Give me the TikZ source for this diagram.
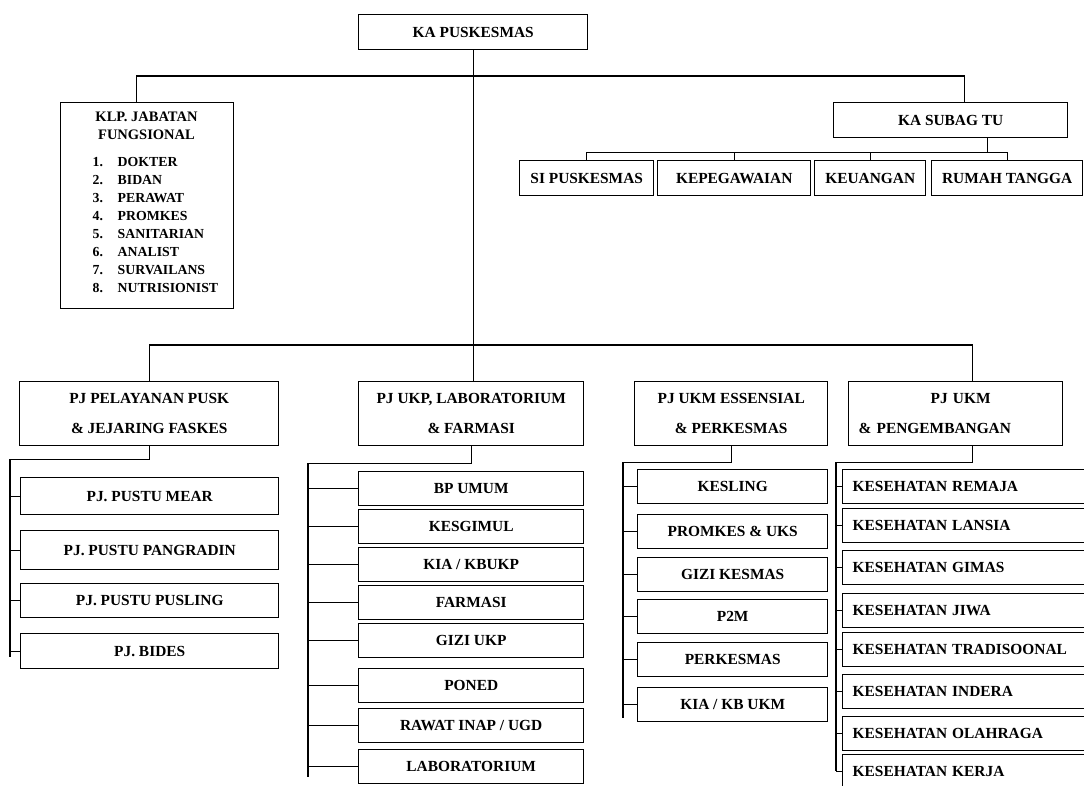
\documentclass[tikz,border=0pt]{standalone}
\usepackage{fontspec}
\setmainfont{Liberation Serif}

\begin{document}
\begin{tikzpicture}[x=1pt, y=-1pt, line width=1.4pt,
  box/.style={draw, inner sep=0pt, anchor=north west, align=center,
    font=\bfseries\fontsize{15.4}{18}\selectfont},
  pjbox/.style={box, minimum height=64pt, font=\bfseries\fontsize{15.4}{30}\selectfont},
  itembox/.style={box, minimum height=34pt},
  listtxt/.style={anchor=west, inner sep=0pt, font=\bfseries\fontsize{13.8}{15}\selectfont}]
  \useasboundingbox (0,0) rectangle (1084,786);

  \node[box, minimum width=229pt, minimum height=35pt] (kapusk) at (358,14) {KA PUSKESMAS};
  \node[box, minimum width=173pt, minimum height=206pt] (klp) at (60,102) {};
  \node[inner sep=0pt, align=center, font=\bfseries\fontsize{14.5}{18}\selectfont] (klptitle) at (146.5,126) {KLP. JABATAN\\FUNGSIONAL};
  \foreach \t [count=\i] in {DOKTER,BIDAN,PERAWAT,PROMKES,SANITARIAN,ANALIST,SURVAILANS,NUTRISIONIST}
    \node[listtxt] (fung\i) at (92,{144+18*\i}) {\makebox[25pt][l]{\i.}\t};

  \node[box, minimum width=234pt, minimum height=35pt] (kasubag) at (833,102) {KA SUBAG TU};
  \node[box, minimum width=134pt, minimum height=35pt] (sipusk) at (519,160) {SI PUSKESMAS};
  \node[box, minimum width=153pt, minimum height=35pt] (kepeg) at (657,160) {KEPEGAWAIAN};
  \node[box, minimum width=111pt, minimum height=35pt] (keu) at (814,160) {KEUANGAN};
  \node[box, minimum width=151pt, minimum height=35pt] (rumah) at (931,160) {RUMAH TANGGA};

  \node[pjbox, minimum width=259pt] (pelayanan) at (19,381) {PJ PELAYANAN PUSK\\\& JEJARING FASKES};
  \node[pjbox, minimum width=225pt] (ukp) at (358,381) {PJ UKP, LABORATORIUM\\\& FARMASI};
  \node[pjbox, minimum width=193pt] (ess) at (634,381) {PJ UKM ESSENSIAL\\\& PERKESMAS};
  \node[pjbox, text width=194pt, inner xsep=10pt, align=left] (peng) at (848,381) {\hspace*{72pt}PJ UKM\\\& PENGEMBANGAN};

  \foreach \n/\t/\y/\h in {mear/PJ. PUSTU MEAR/477/37, pangradin/PJ. PUSTU PANGRADIN/530/39,
      pusling/PJ. PUSTU PUSLING/583/34, bides/PJ. BIDES/633/35}
    \node[itembox, minimum width=258pt, minimum height=\h pt] (\n) at (20,\y) {\t};
  \foreach \n/\t/\y in {bpumum/BP UMUM/471, kesgimul/KESGIMUL/509, kia/{KIA / KBUKP}/547,
      farmasi/FARMASI/585, giziukp/GIZI UKP/623, poned/PONED/668,
      rawat/{RAWAT INAP / UGD}/708, lab/LABORATORIUM/749}
    \node[itembox, minimum width=225pt] (\n) at (358,\y) {\t};
  \foreach \n/\t/\y in {kesling/KESLING/469, promkes/PROMKES \& UKS/514, gizikesmas/GIZI KESMAS/557,
      ptwom/P2M/599, perkesmas/PERKESMAS/642, kiakb/{KIA / KB UKM}/687}
    \node[itembox, minimum width=190pt] (\n) at (637,\y) {\t};
  \foreach \n/\t/\y in {remaja/REMAJA/469, lansia/LANSIA/508, gimas/GIMAS/550, jiwa/JIWA/593,
      tradisi/TRADISOONAL/632, indera/INDERA/674, olahraga/OLAHRAGA/716, kerja/KERJA/754}
    \node[itembox, text width=232pt, inner xsep=10pt, align=left] (\n) at (842,\y) {KESEHATAN \t};

  \draw (kapusk.south) -- (kapusk.south |- ukp.north);
  \draw ([xshift=-10.5pt]klp.north) -- ++(0,-26) -| ([xshift=14pt]kasubag.north);
  \draw ([xshift=37pt]kasubag.south) -- ++(0,14) coordinate (tubar);
  \foreach \n in {sipusk,kepeg,keu,rumah}
    \draw (\n.north) |- (tubar);
  \draw (pelayanan.north) -- ++(0,-36) -| ([xshift=17pt]peng.north);

  \coordinate (spine1) at (10,657);
  \coordinate (spine2) at (308,777);
  \coordinate (spine3) at (623,718);
  \coordinate (spine4) at (836,771);
  \draw (pelayanan.south) -- ++(0,13) -| (spine1);
  \draw (ukp.south) -- ++(0,17) -| (spine2);
  \draw (ess.south) -- ++(0,16) -| (spine3);
  \draw ([xshift=17pt]peng.south) -- ++(0,16) -| (spine4);
  \foreach \n in {mear,pangradin,pusling,bides}
    \draw (spine1 |- \n.west) -- (\n.west);
  \foreach \n in {bpumum,kesgimul,kia,farmasi,giziukp,poned,rawat,lab}
    \draw (spine2 |- \n.west) -- (\n.west);
  \foreach \n in {kesling,promkes,gizikesmas,ptwom,perkesmas,kiakb}
    \draw (spine3 |- \n.west) -- (\n.west);
  \foreach \n in {remaja,lansia,gimas,jiwa,tradisi,indera,olahraga,kerja}
    \draw (spine4 |- \n.west) -- (\n.west);
\end{tikzpicture}
\end{document}
